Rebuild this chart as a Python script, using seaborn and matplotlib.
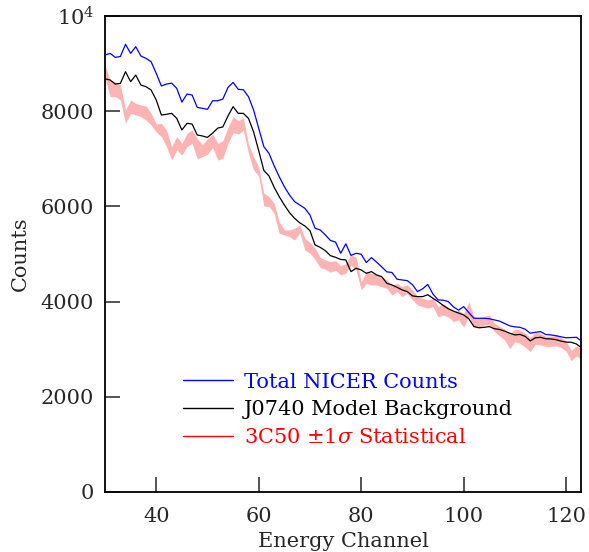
import numpy as np
import pandas as pd
import matplotlib
matplotlib.use("Agg")
import matplotlib.pyplot as plt
import seaborn as sns
from matplotlib.lines import Line2D

channels = list(range(30, 124))

total_counts = [
    9180, 9215, 9130, 9150, 9405, 9215, 9355, 9160, 9110, 9040,
    8795, 8530, 8570, 8590, 8480, 8190, 8360, 8340, 8080, 8060,
    8040, 8220, 8220, 8255, 8500, 8605, 8460, 8450, 8305, 8025,
    7640, 7255, 7115, 6855, 6625, 6415, 6240, 6100, 6030, 5960,
    5820, 5540, 5505, 5400, 5285, 5250, 5015, 5215, 4970, 5015,
    4995, 4820, 4925, 4830, 4730, 4625, 4612, 4470, 4455, 4440,
    4355, 4210, 4270, 4360, 4160, 4035, 4030, 4000, 3890, 3820,
    3895, 3770, 3650, 3650, 3650, 3640, 3615, 3590, 3540, 3490,
    3470, 3460, 3420, 3335, 3355, 3370, 3310, 3300, 3285, 3260,
    3240, 3245, 3250, 3170]

model_background = [
    8680, 8655, 8570, 8585, 8830, 8620, 8760, 8550, 8515, 8445,
    8235, 7920, 7935, 7955, 7850, 7605, 7745, 7730, 7500, 7480,
    7450, 7540, 7645, 7670, 7900, 8095, 7955, 7955, 7850, 7565,
    7170, 6755, 6640, 6405, 6205, 6030, 5870, 5750, 5655, 5590,
    5490, 5190, 5140, 5070, 4965, 4930, 4885, 4875, 4630, 4700,
    4665, 4595, 4630, 4560, 4525, 4385, 4350, 4300, 4245, 4210,
    4120, 4105, 4105, 4145, 4070, 4000, 3920, 3850, 3800, 3760,
    3720, 3640, 3475, 3450, 3460, 3475, 3430, 3415, 3380, 3335,
    3300, 3310, 3270, 3175, 3240, 3250, 3220, 3215, 3200, 3170,
    3150, 3145, 3110, 3030]

bkg_3c50_upper = [
    8970, 8655, 8620, 8550, 8025, 8235, 8165, 8130, 8110, 7955,
    7730, 7745, 7605, 7255, 7465, 7325, 7535, 7605, 7420, 7300,
    7420, 7520, 7325, 7380, 7660, 7885, 7800, 7860, 7310, 7045,
    6820, 6280, 6205, 6065, 5680, 5505, 5505, 5540, 5610, 5330,
    5240, 5120, 4930, 4875, 4840, 4860, 4755, 4800, 4980, 4935,
    4410, 4630, 4595, 4560, 4525, 4455, 4350, 4385, 4315, 4350,
    4245, 4105, 4070, 4035, 4070, 3895, 3960, 3870, 3790, 3820,
    3740, 4000, 3685, 3650, 3685, 3720, 3545, 3480, 3420, 3315,
    3420, 3400, 3335, 3245, 3350, 3335, 3270, 3275, 3290, 3245,
    3170, 2970, 3070, 3010]

bkg_3c50_lower = [
    8700, 8305, 8305, 8235, 7745, 7955, 7920, 7885, 7815, 7710,
    7565, 7465, 7255, 6975, 7185, 7080, 7255, 7325, 7000, 7045,
    7100, 7240, 6975, 7010, 7325, 7550, 7520, 7600, 7115, 6765,
    6640, 6005, 6000, 5855, 5435, 5400, 5365, 5295, 5450, 5085,
    5015, 4890, 4715, 4680, 4620, 4660, 4560, 4600, 4770, 4665,
    4245, 4385, 4350, 4350, 4315, 4280, 4140, 4210, 4105, 4175,
    4035, 3930, 3895, 3860, 3895, 3680, 3720, 3680, 3580, 3615,
    3460, 3700, 3475, 3465, 3510, 3510, 3370, 3280, 3195, 3010,
    3160, 3120, 3045, 2950, 3105, 3090, 3060, 3060, 3070, 3035,
    2960, 2760, 2860, 2780]

labels = ["Total NICER Counts", "J0740 Model Background",
          r"3C50 $\pm$1$\sigma$ Statistical"]
y_ticks = [0, 2000, 4000, 6000, 8000, 10000]
y_ticklabels = ["0", "2000", "4000", "6000", "8000", r"$10^4$"]
x_ticks = [40, 60, 80, 100, 120]

sns.set_theme(style="ticks")
plt.rcParams["font.family"] = ["DejaVu Serif"]
plt.rcParams["mathtext.fontset"] = "dejavuserif"

df = pd.DataFrame({
    "channel": channels,
    "total": total_counts,
    "model": model_background,
    "lo": bkg_3c50_lower,
    "hi": bkg_3c50_upper,
})

FS = 15

fig = plt.figure(figsize=(5.89, 5.52), dpi=100)
ax = fig.add_axes([0.1783, 0.1087, 0.8081, 0.8623])

ax.fill_between(df["channel"], df["lo"], df["hi"], color="#ffb3b3",
                linewidth=0, zorder=1)
sns.lineplot(data=df, x="channel", y="model", ax=ax, color="black",
             linewidth=0.9, zorder=2)
sns.lineplot(data=df, x="channel", y="total", ax=ax, color="#0000ff",
             linewidth=0.9, zorder=3)

ax.set_xlim(30, 122.9)
ax.set_ylim(0, 10000)
ax.set_xticks(x_ticks)
ax.set_yticks(y_ticks)
ax.set_yticklabels(y_ticklabels)
ax.tick_params(direction="in", length=11, width=1.1, labelsize=FS,
               top=False, right=False)
ax.tick_params(axis="y", pad=8)
ax.tick_params(axis="x", pad=11)
for s in ax.spines.values():
    s.set_linewidth(1.3)
    s.set_color("black")
    s.set_visible(True)
ax.set_xlabel("Energy Channel", fontsize=FS, labelpad=4)
ax.set_ylabel("Counts", fontsize=FS, labelpad=8)

handles = [Line2D([], [], color="#0000ff", lw=1.0),
           Line2D([], [], color="black", lw=1.0),
           Line2D([], [], color="red", lw=1.0)]
leg = ax.legend(handles, labels, loc="lower left",
                bbox_to_anchor=(0.125, 0.055), frameon=False, fontsize=FS,
                handlelength=2.4, handletextpad=0.5, labelspacing=0.42,
                labelcolor=["#0000ff", "black", "red"])

fig.savefig("out.png", dpi=100)
